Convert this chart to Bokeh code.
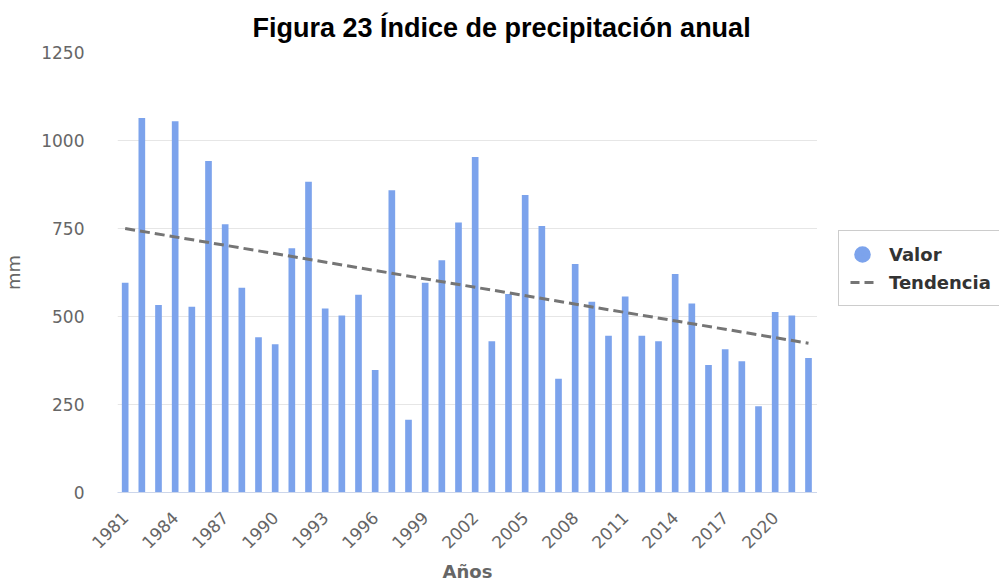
import math
from bokeh.plotting import figure
from bokeh.layouts import row
from bokeh.models import FixedTicker, Legend, LegendItem, Range1d
from bokeh.embed import file_html
from bokeh.resources import INLINE

years = list(range(1981, 2023))
values = [596, 1064, 533, 1055, 528, 942, 762, 582, 441, 421,
          694, 883, 523, 503, 562, 348, 859, 207, 596, 660,
          767, 953, 430, 564, 845, 757, 323, 649, 542, 445,
          557, 445, 430, 621, 537, 362, 407, 373, 245, 513, 503, 382]
trend_years = [1981, 2022]
trend_values = [750, 424]
x_ticks = [1981, 1984, 1987, 1990, 1993, 1996, 1999, 2002, 2005, 2008, 2011, 2014, 2017, 2020]
y_ticks = [0, 250, 500, 750, 1000, 1250]

BAR = "#7ca3ec"
GRAY = "#666666"
TREND = "#757575"

p = figure(width=817, height=586,
           x_range=Range1d(1980.54, 2022.54), y_range=Range1d(0, 1250),
           output_backend="svg", toolbar_location=None,
           min_border_left=115, min_border_right=0,
           min_border_top=52, min_border_bottom=94)
p.outline_line_color = None

p.title.text = "Figura 23 Índice de precipitación anual"
p.title.text_font = "Liberation Sans"
p.title.text_font_size = "27px"
p.title.text_font_style = "bold"
p.title.text_color = "#000000"
p.title.align = "left"
p.title.offset = 135
p.title.standoff = 19

p.vbar(x=years, top=values, width=0.4, fill_color=BAR, line_color=None)
p.line(trend_years, trend_values, line_color=TREND, line_width=3, line_dash="10 5")

p.xgrid.visible = False
p.ygrid.grid_line_color = "#e6e6e6"
p.ygrid.ticker = FixedTicker(ticks=y_ticks)

xa = p.xaxis[0]
xa.ticker = FixedTicker(ticks=x_ticks)
xa.major_label_orientation = math.pi / 4
xa.major_tick_line_color = None
xa.minor_tick_line_color = None
xa.axis_line_color = "#ccd6eb"
xa.major_label_text_font = "DejaVu Sans"
xa.major_label_text_font_size = "17px"
xa.major_label_text_color = GRAY
xa.major_label_standoff = 16
xa.axis_label = "Años"
xa.axis_label_text_font = "DejaVu Sans"
xa.axis_label_text_font_size = "18px"
xa.axis_label_text_font_style = "bold"
xa.axis_label_text_color = GRAY
xa.axis_label_standoff = 4

ya = p.yaxis[0]
ya.ticker = FixedTicker(ticks=y_ticks)
ya.major_tick_line_color = None
ya.minor_tick_line_color = None
ya.axis_line_color = None
ya.major_label_text_font = "DejaVu Sans"
ya.major_label_text_font_size = "17px"
ya.major_label_text_color = GRAY
ya.major_label_standoff = 27
ya.axis_label = "mm"
ya.axis_label_text_font = "DejaVu Sans"
ya.axis_label_text_font_size = "18px"
ya.axis_label_text_font_style = "normal"
ya.axis_label_text_color = GRAY
ya.axis_label_standoff = 14

# legend panel to the right of the plot (its renderers are hidden; only the key is shown)
lf = figure(width=182, height=586, x_range=Range1d(0, 1), y_range=Range1d(0, 1),
            output_backend="svg", toolbar_location=None,
            min_border_left=0, min_border_right=0, min_border_top=52, min_border_bottom=94)
lf.outline_line_color = None
lf.axis.visible = False
lf.grid.visible = False
key_valor = lf.circle(x=years, y=values, radius=0.1, fill_color=BAR, line_color=BAR,
                      line_width=7, visible=False)
key_trend = lf.line(x=trend_years, y=trend_values, line_color=TREND, line_width=3,
                    line_dash="9 5", visible=False)

legend = Legend(items=[LegendItem(label="Valor", renderers=[key_valor]),
                       LegendItem(label="Tendencia", renderers=[key_trend])],
                location=(21, 186))
legend.border_line_color = "#999999"
legend.border_line_width = 1
legend.background_fill_color = "white"
legend.inactive_fill_alpha = 0
legend.label_text_font = "DejaVu Sans"
legend.label_text_font_style = "bold"
legend.label_text_font_size = "18px"
legend.label_text_color = "#333333"
legend.glyph_width = 24
legend.glyph_height = 24
legend.label_standoff = 15
legend.spacing = 4
legend.padding = 11
legend.margin = 0
lf.add_layout(legend)

layout = row(p, lf, spacing=0)
open("out.html", "w").write(file_html(layout, INLINE))
